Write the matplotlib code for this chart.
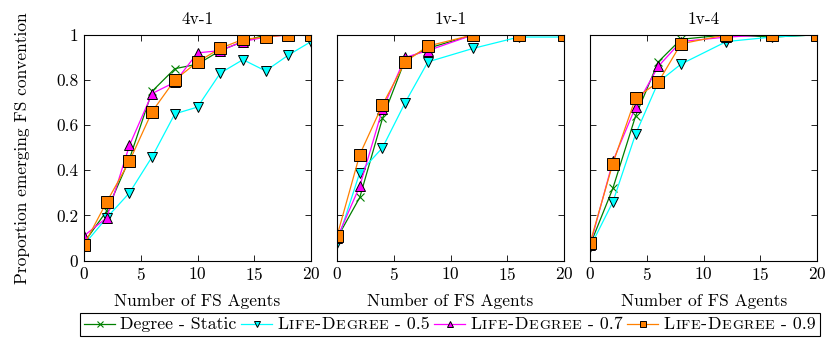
import numpy as np
import matplotlib.pyplot as plt
from matplotlib.lines import Line2D
from matplotlib.offsetbox import AnchoredOffsetbox, DrawingArea, HPacker, TextArea

plt.rcParams['font.family'] = ['cmr10', 'DejaVu Serif']
plt.rcParams['mathtext.fontset'] = 'cm'
plt.rcParams['axes.formatter.use_mathtext'] = True

titles = ["4v-1", "1v-1", "1v-4"]
# legend labels, split into (text, small caps?) pieces
labels = [
    [("Degree - Static", False)],
    [("L", False), ("I", True), ("F", True), ("E", True), ("-", False), ("D", False),
     ("E", True), ("G", True), ("R", True), ("E", True), ("E", True), (" - 0.5", False)],
    [("L", False), ("I", True), ("F", True), ("E", True), ("-", False), ("D", False),
     ("E", True), ("G", True), ("R", True), ("E", True), ("E", True), (" - 0.7", False)],
    [("L", False), ("I", True), ("F", True), ("E", True), ("-", False), ("D", False),
     ("E", True), ("G", True), ("R", True), ("E", True), ("E", True), (" - 0.9", False)],
]

x_4v1 = [0, 2, 4, 6, 8, 10, 12, 14, 16, 18, 20]
x_1v = [0, 2, 4, 6, 8, 12, 16, 20]

# 4v-1
static_4v1 = [0.08, 0.22, 0.45, 0.75, 0.85, 0.87, 0.93, 0.97, 1.0, 1.0, 1.0]
ld05_4v1 = [0.07, 0.19, 0.30, 0.46, 0.65, 0.68, 0.83, 0.89, 0.84, 0.91, 0.97]
ld07_4v1 = [0.11, 0.19, 0.51, 0.74, 0.79, 0.92, 0.93, 0.97, 0.99, 1.0, 1.0]
ld09_4v1 = [0.07, 0.26, 0.44, 0.66, 0.80, 0.88, 0.94, 0.98, 0.99, 1.0, 1.0]

# 1v-1
static_1v1 = [0.10, 0.28, 0.63, 0.89, 0.94, 1.0, 1.0, 1.0]
ld05_1v1 = [0.08, 0.39, 0.50, 0.70, 0.88, 0.94, 0.99, 0.99]
ld07_1v1 = [0.10, 0.33, 0.67, 0.90, 0.93, 1.0, 1.0, 1.0]
ld09_1v1 = [0.11, 0.47, 0.69, 0.88, 0.95, 1.0, 1.0, 1.0]

# 1v-4
static_1v4 = [0.07, 0.32, 0.64, 0.88, 0.98, 1.0, 0.99, 1.0]
ld05_1v4 = [0.06, 0.26, 0.56, 0.79, 0.87, 0.97, 0.99, 1.0]
ld07_1v4 = [0.07, 0.44, 0.68, 0.86, 0.97, 0.99, 1.0, 1.0]
ld09_1v4 = [0.08, 0.43, 0.72, 0.79, 0.96, 1.0, 1.0, 1.0]

panels = [
    (x_4v1, [static_4v1, ld05_4v1, ld07_4v1, ld09_4v1]),
    (x_1v, [static_1v1, ld05_1v1, ld07_1v1, ld09_1v1]),
    (x_1v, [static_1v4, ld05_1v4, ld07_1v4, ld09_1v4]),
]

styles = [
    dict(color=(0.0, 0.5, 0.0), marker='x', markersize=6, markeredgewidth=0.8),
    dict(color=(0.0, 1.0, 1.0), marker='v', markersize=7.5, markeredgecolor='black', markeredgewidth=0.7),
    dict(color=(1.0, 0.0, 1.0), marker='^', markersize=7.5, markeredgecolor='black', markeredgewidth=0.7),
    dict(color=(1.0, 0.5, 0.0), marker='s', markersize=9, markeredgecolor='black', markeredgewidth=0.7),
]
legend_marker_sizes = [4, 4.5, 4.5, 3.8]

FS = 12.5
LFS = 12.8
SC = 10.2

fig = plt.figure(figsize=(8.27, 3.48), dpi=100)
left, bottom, w, h, gap = 0.1016, 0.251, 0.2745, 0.649, 0.0315

for i, (xs, series) in enumerate(panels):
    ax = fig.add_axes([left + i * (w + gap), bottom, w, h])
    for ys, st in zip(series, styles):
        ax.plot(xs, ys, linewidth=0.9, **st)
    ax.set_xlim(0, 20)
    ax.set_ylim(0, 1)
    ax.set_xticks([0, 5, 10, 15, 20])
    ax.set_yticks([0, 0.2, 0.4, 0.6, 0.8, 1])
    ax.tick_params(direction='in', top=True, right=True, labelsize=FS, length=4, width=0.6, pad=4)
    if i == 0:
        ax.set_yticklabels(["0", "0.2", "0.4", "0.6", "0.8", "1"])
        ax.set_ylabel("Proportion emerging FS convention", fontsize=FS, labelpad=19)
    else:
        ax.set_yticklabels([])
    ax.set_title(titles[i], fontsize=FS, pad=8)
    ax.set_xlabel("Number of FS Agents", fontsize=FS, labelpad=7)
    for sp in ax.spines.values():
        sp.set_linewidth(0.8)

# legend built from pieces so the small caps can be imitated (sizes in points)
items = []
for pieces, st, ms in zip(labels, styles, legend_marker_sizes):
    da = DrawingArea(22.5, 8, 0, 0)
    line_st = dict(st)
    line_st['markersize'] = ms
    da.add_artist(Line2D([0, 22.5], [4, 4], linewidth=0.9, color=st['color']))
    da.add_artist(Line2D([11.25], [4], linestyle='none', **line_st))
    texts = [TextArea(t, textprops=dict(fontsize=SC if small else LFS)) for t, small in pieces]
    label_box = HPacker(children=texts, align="baseline", pad=0, sep=0.45)
    items.append(HPacker(children=[da, label_box], align="center", pad=0, sep=3.6))
box = HPacker(children=items, align="center", pad=0, sep=3.2)
anch = AnchoredOffsetbox(loc='lower center', child=box, pad=0.3, borderpad=0.0,
                         bbox_to_anchor=(0.544, 0.034), bbox_transform=fig.transFigure, frameon=True)
anch.patch.set_edgecolor('black')
anch.patch.set_linewidth(0.8)
anch.patch.set_boxstyle('square', pad=0)
fig.add_artist(anch)

fig.savefig("out.png", dpi=100)
